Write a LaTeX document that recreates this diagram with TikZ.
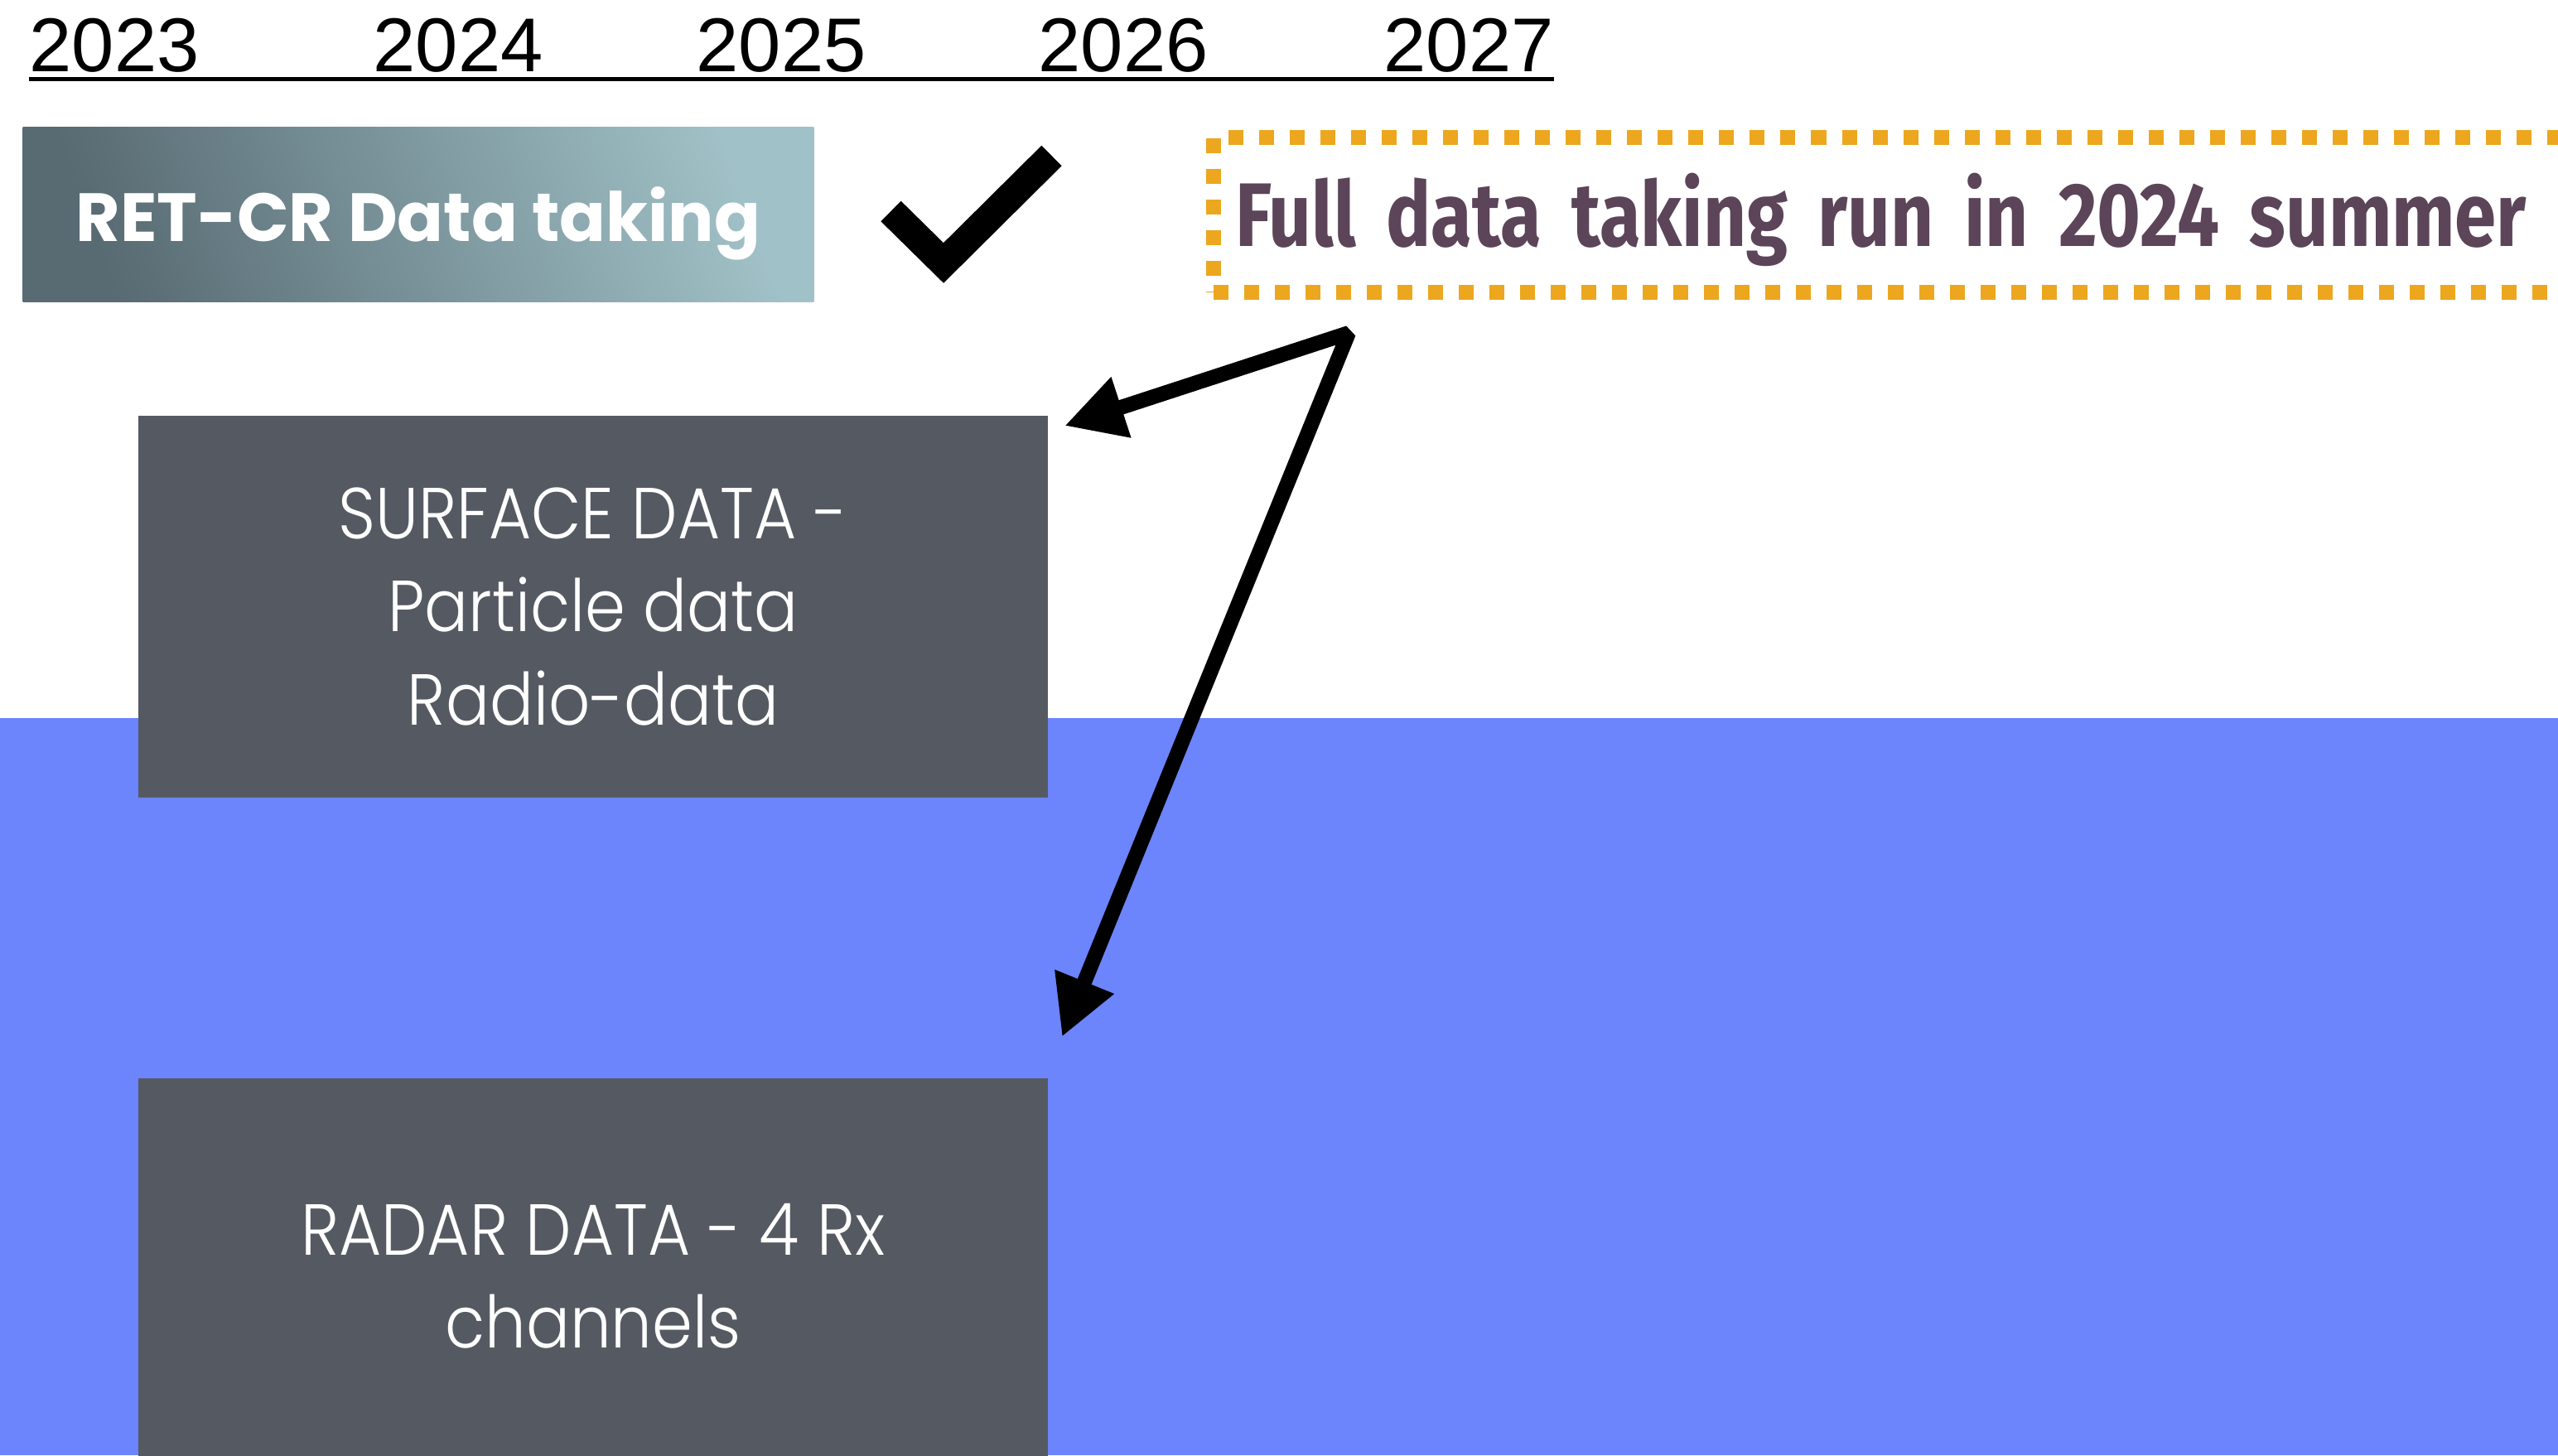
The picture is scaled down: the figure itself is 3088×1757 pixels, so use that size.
\documentclass[tikz,border=0pt]{standalone}
\usepackage{fontspec}
\usetikzlibrary{arrows.meta,positioning,calc}

\newfontfamily\yearfont{Liberation Sans}
\newfontfamily\headfont{Poppins}
\newfontfamily\lightfont{Poppins Light}[FakeStretch=0.9]
\newfontfamily\narrowfont{Fira Sans}[FakeStretch=0.83]

\definecolor{slatedark}{RGB}{88,106,114}
\definecolor{slatelight}{RGB}{160,193,199}
\definecolor{boxgrey}{RGB}{85,90,98}
\definecolor{seablue}{RGB}{108,132,252}
\definecolor{runorange}{RGB}{236,167,31}
\definecolor{runplum}{RGB}{92,68,89}

\begin{document}
\begin{tikzpicture}[
    x=0.01cm, y=-0.01cm,
    year/.style={anchor=base west, inner sep=0pt, font=\yearfont\fontsize{26.2}{30}\selectfont},
    retbox/.style={rectangle, minimum width=9.54cm, minimum height=2.1cm, text depth=0pt, left color=slatedark, right color=slatelight, shading angle=110, text=white, font=\headfont\bfseries\fontsize{23.4}{28}\selectfont},
    databox/.style={rectangle, fill=boxgrey, minimum width=10.98cm, text=white, align=center, font=\lightfont\fontsize{24.8}{31.9}\selectfont},
    notebox/.style={rectangle, draw=runorange, line width=0.18cm, dash pattern=on 0.18cm off 0.19cm, minimum height=1.87cm, text width=15.93cm, inner xsep=0.26cm, text depth=0.13cm, align=left, text=runplum, font=\narrowfont\bfseries\fontsize{31}{36}\selectfont},
    tick/.style={line width=0.345cm, line join=miter},
    pointer/.style={line width=0.18cm, line join=bevel, {Triangle[length=0.72cm, width=0.72cm]}-{Triangle[length=0.72cm, width=0.72cm]}}
]

\useasboundingbox (0,0) rectangle (3088,1757);
\clip (0,0) rectangle (3088,1757);
\fill[seablue] (0,867) rectangle (3088,1757);

% timeline
\node[year] (y2023) at (35,86) {2023};
\node[year] (y2024) at (450,86) {2024};
\node[year] (y2025) at (840,86) {2025};
\node[year] (y2026) at (1253,86) {2026};
\node[year] (y2027) at (1670,86) {2027};
\draw[line width=0.05cm] ([shift={(0,9)}]y2023.base west) -- ([shift={(0,9)}]y2027.base east);

\node[retbox] (retcr) at (505,259) {RET-CR Data taking};
\draw[tick] (1075.5,255) -- (1139,317.5) -- (1269.5,188);
\node[notebox, anchor=west] (fullrun) at (1456,259.5) {Full data taking run in 2024 summer};

\node[databox, minimum height=4.61cm] (surface) at (716,732.5) {SURFACE DATA -\\Particle data\\Radio-data};
\node[databox, minimum height=4.78cm, anchor=north] (radar) at (716,1301) {RADAR DATA - 4 Rx\\channels};

\coordinate (fork) at ([shift={(172,40)}]fullrun.south west);
\coordinate (surfacetip) at ([shift={(19,13)}]surface.north east);
\coordinate (radartip) at ([shift={(16,-49)}]radar.north east);
\draw[pointer] (surfacetip) -- (fork) -- (radartip);

\end{tikzpicture}
\end{document}
